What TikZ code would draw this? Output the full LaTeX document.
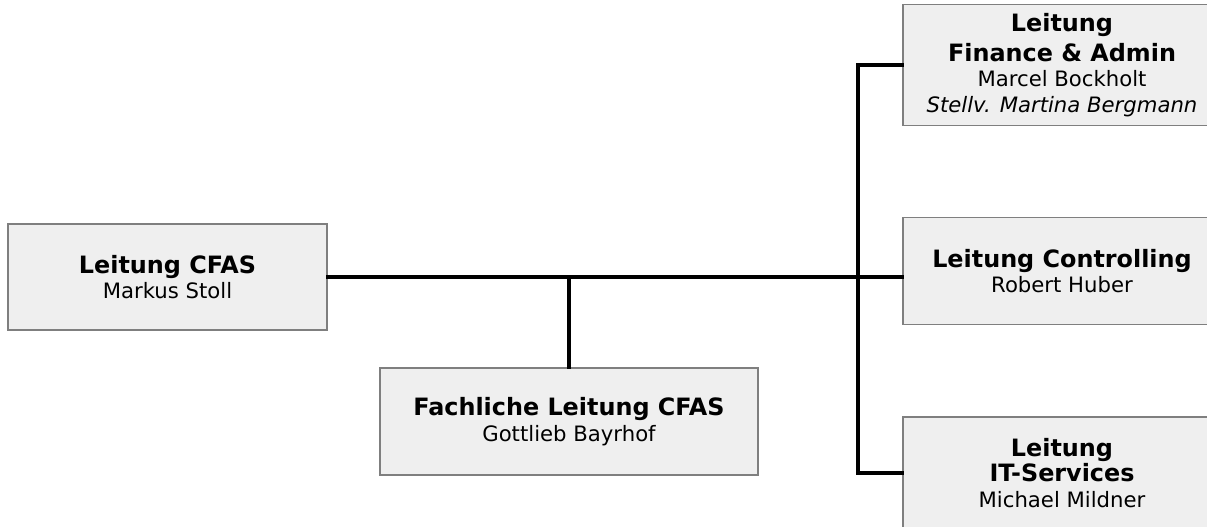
\documentclass[tikz,border=0pt]{standalone}
\usepackage{fontspec}
\setmainfont{DejaVu Sans}
\newcommand{\bt}[1]{{\fontsize{17.9pt}{19pt}\selectfont\bfseries #1}}
\newcommand{\rt}[1]{{\fontsize{15.9pt}{19pt}\selectfont #1}}
\definecolor{boxfill}{HTML}{EFEFEF}
\definecolor{boxline}{HTML}{7F7F7F}
\tikzset{
  orgbox/.style={draw=boxline, line width=1.2pt, fill=boxfill, align=center,
    inner sep=0pt, font=\fontsize{15.9pt}{19pt}\selectfont},
  conn/.style={draw=black, line width=2.3pt, line cap=rect}
}
\begin{document}
\begin{tikzpicture}[x=0.75pt,y=-0.75pt]
\clip (0,0) rectangle (1207,526);
\useasboundingbox (0,0) rectangle (1207,526);
\node[orgbox, minimum width=319*0.75pt, minimum height=106*0.75pt] (cfas) at (167.5,277)
  {\bt{Leitung CFAS}\\ \rt{Markus Stoll}};
\node[orgbox, minimum width=378*0.75pt, minimum height=107*0.75pt] (fach) at (569,421.5)
  {\bt{Fachliche Leitung CFAS}\\ \rt{Gottlieb Bayrhof}};
\node[orgbox, minimum width=318*0.75pt, minimum height=121*0.75pt] (fin) at (1062,65)
  {\bt{Leitung}\\[3.5pt] \bt{Finance \& Admin}\\ \rt{Marcel Bockholt}\\ \rt{\itshape Stellv. Martina Bergmann}};
\node[orgbox, minimum width=318*0.75pt, minimum height=107*0.75pt] (ctrl) at (1062,271)
  {\bt{Leitung Controlling}\\ \rt{Robert Huber}};
\node[orgbox, minimum width=318*0.75pt, minimum height=112*0.75pt] (it) at (1062,473)
  {\bt{Leitung}\\ \bt{IT-Services}\\ \rt{Michael Mildner}};
\coordinate (tt) at (858,65);
\coordinate (tb) at (858,473);
\draw[conn] (cfas.east) -- (ctrl.west |- cfas.east);
\draw[conn] (cfas.east -| fach.north) -- (fach.north);
\draw[conn] (fin.west) -- (tt) -- (tb) -- (it.west);
\end{tikzpicture}
\end{document}
